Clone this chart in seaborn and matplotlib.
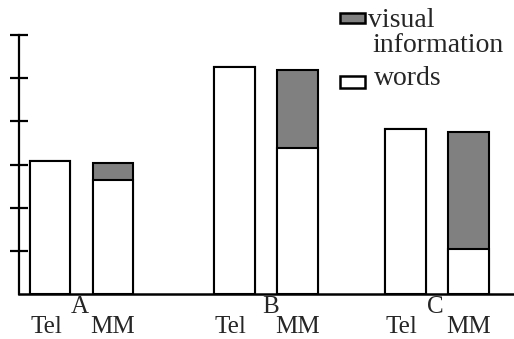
import numpy as np
import pandas as pd
import matplotlib
matplotlib.use("Agg")
import matplotlib.pyplot as plt
from matplotlib.patches import Rectangle
import seaborn as sns

#################################################
#   DATA    --------------------------------------
#################################################
groups = ["A", "B", "C"]
conditions = ["Tel", "MM"]
words = [3.08, 2.64, 5.25, 3.38, 3.82, 1.04]      # order: A Tel, A MM, B Tel, ...
visual = [0.0, 0.39, 0.0, 1.81, 0.0, 2.71]
legend_labels = ["visual", "information", "words"]

#################################################
#   LAYOUT    ------------------------------------
#################################################
W, H = 514, 339
group_centers = [81.5, 266.0, 437.0]   # horizontal axis units ~ pixels
cond_offset = [-31.5, 31.5]
group_label_nudge = [-1.5, 5.0, -2.0]
cond_label_nudge = {"Tel": -4.0, "MM": 0.0}

rows = []
k = 0
for g, gc in zip(groups, group_centers):
    for c, off in zip(conditions, cond_offset):
        rows.append({"group": g, "cond": c, "pos": gc + off,
                     "words": words[k], "total": words[k] + visual[k]})
        k += 1
df = pd.DataFrame(rows)

sns.set_style("white")
plt.rcParams["font.family"] = ["Liberation Serif", "DejaVu Serif"]
FS = 18

fig = plt.figure(figsize=(W / 100, H / 100), dpi=100)
ax = fig.add_axes([19 / W, 1 - 294 / H, 1 - 19 / W, (294 - 35) / H])

gray = "#808080"
sns.barplot(data=df, x="pos", y="total", native_scale=True, width=0.65,
            color=gray, edgecolor="black", linewidth=1.5, saturation=1,
            ax=ax)
sns.barplot(data=df, x="pos", y="words", native_scale=True, width=0.65,
            color="white", edgecolor="black", linewidth=1.5, saturation=1,
            ax=ax)

ax.set_xlim(19, 514)
ax.set_ylim(0, 6)
ax.set_xlabel("")
ax.set_ylabel("")

for s in ["top", "right"]:
    ax.spines[s].set_visible(False)
ax.spines["left"].set_linewidth(1.6)
ax.spines["bottom"].set_linewidth(1.8)
ax.spines["left"].set_color("black")
ax.spines["bottom"].set_color("black")

ax.set_yticks(np.arange(1, 7))
ax.set_yticklabels([])
ax.tick_params(axis="y", direction="inout", length=13, width=1.6, left=True, color="black")
ax.set_xticks([])

# category labels (pixel rows -> axes fraction)
def ypix(p):
    return (294 - p) / 259

trans = ax.get_xaxis_transform()
for g, gc, nd in zip(groups, group_centers, group_label_nudge):
    ax.text(gc + nd, ypix(313), g, ha="center", va="baseline", fontsize=FS,
            transform=trans)
for _, r in df.iterrows():
    ax.text(r["pos"] + cond_label_nudge[r["cond"]], ypix(333), r["cond"],
            ha="center", va="baseline", fontsize=FS, transform=trans, clip_on=False)

# legend drawn in figure pixels
def fx(p):
    return p / W

def fy(p):
    return 1 - p / H

for (top, bot), fc in [((13, 23), gray), ((76, 88), "white")]:
    fig.patches.append(Rectangle((fx(340), fy(bot)), fx(365) - fx(340), fy(top) - fy(bot),
                                 facecolor=fc, edgecolor="black", linewidth=1.8,
                                 transform=fig.transFigure))
for lab, x0, base in zip(legend_labels, [368, 372, 374], [27, 52, 85]):
    fig.text(fx(x0), fy(base), lab, ha="left", va="baseline", fontsize=20)

fig.savefig("out.png", dpi=100)
